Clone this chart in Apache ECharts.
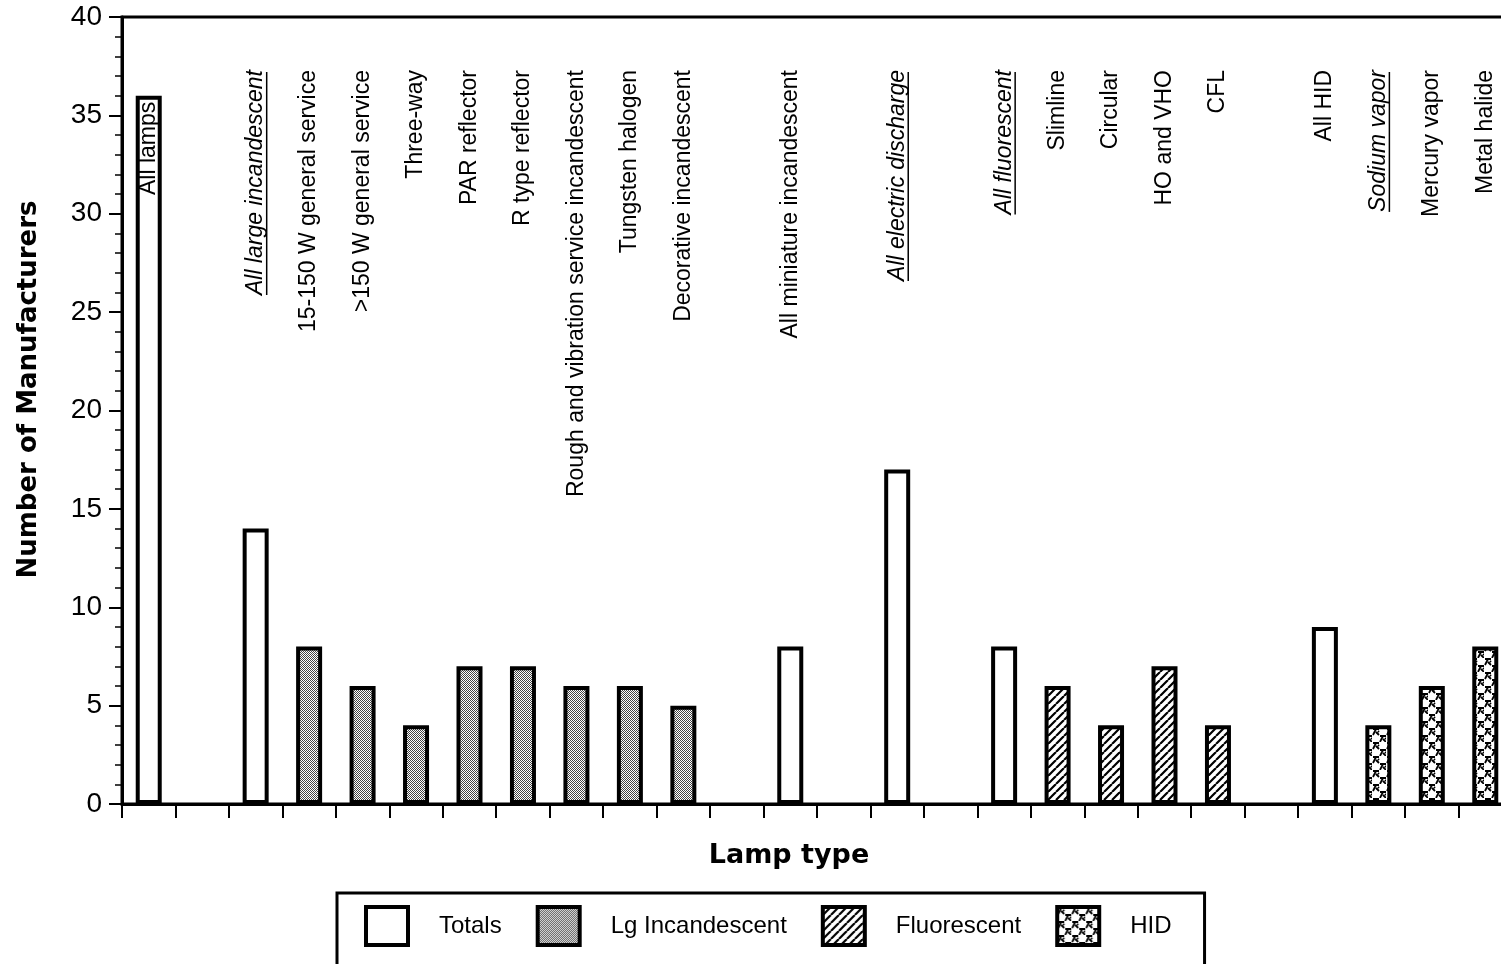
<!DOCTYPE html>
<html>
<head>
<meta charset="utf-8">
<script src="https://cdn.jsdelivr.net/npm/echarts@6/dist/echarts.min.js"></script>
<style>
  html, body { margin: 0; padding: 0; background: #fff; }
  #chart { width: 1501px; height: 964px; }
</style>
</head>
<body>
<div id="chart"></div>
<script>
  const categories = [
    'All lamps', '', 'All large incandescent', '15-150 W general service', '>150 W general service',
    'Three-way', 'PAR reflector', 'R type reflector', 'Rough and vibration service incandescent',
    'Tungsten halogen', 'Decorative incandescent', '', 'All miniature incandescent', '',
    'All electric discharge', '', 'All fluorescent', 'Slimline', 'Circular', 'HO and VHO', 'CFL', '',
    'All HID', 'Sodium vapor', 'Mercury vapor', 'Metal halide'
  ]
  // italic + underlined category labels
  const underlined = ['All large incandescent', 'All electric discharge', 'All fluorescent', 'Sodium vapor']

  const totals = [36, null, 14, null, null, null, null, null, null, null, null, null, 8, null, 17, null, 8, null, null, null, null, null, 9, null, null, null]
  const lgIncandescent = [null, null, null, 8, 6, 4, 7, 7, 6, 6, 5, null, null, null, null, null, null, null, null, null, null, null, null, null, null, null]
  const fluorescent = [null, null, null, null, null, null, null, null, null, null, null, null, null, null, null, null, null, 6, 4, 7, 4, null, null, null, null, null]
  const hid = [null, null, null, null, null, null, null, null, null, null, null, null, null, null, null, null, null, null, null, null, null, null, null, 4, 6, 8]

  const yTicks = [0, 5, 10, 15, 20, 25, 30, 35, 40]

  // fill patterns
  const makePattern = (w, h, draw) => {
    const c = document.createElement('canvas')
    c.width = w
    c.height = h
    const ctx = c.getContext('2d')
    ctx.fillStyle = '#fff'
    ctx.fillRect(0, 0, w, h)
    draw(ctx)
    return { image: c, repeat: 'repeat' }
  }
  const stipple = makePattern(4, 4, (ctx) => {
    ctx.fillStyle = '#444'
    for (let y = 0; y < 4; y++) {
      for (let x = 0; x < 4; x++) {
        if ((x + y) % 2 === 0) ctx.fillRect(x, y, 1, 1)
      }
    }
  })
  const hatch = makePattern(8, 8, (ctx) => {
    ctx.strokeStyle = '#000'
    ctx.lineWidth = 2.2
    ctx.beginPath()
    for (let k = -8; k <= 16; k += 8) {
      ctx.moveTo(k, 8)
      ctx.lineTo(k + 8, 0)
    }
    ctx.stroke()
  })
  const glyphs = makePattern(14, 14, (ctx) => {
    ctx.strokeStyle = '#000'
    ctx.lineWidth = 1.8
    const glyph = (ox, oy) => {
      ctx.beginPath()
      ctx.moveTo(ox, oy); ctx.lineTo(ox + 6, oy)
      ctx.moveTo(ox + 3, oy); ctx.lineTo(ox, oy + 6)
      ctx.moveTo(ox + 3, oy + 3); ctx.lineTo(ox + 6, oy + 6)
      ctx.moveTo(ox + 5, oy + 2); ctx.lineTo(ox + 6, oy + 3)
      ctx.stroke()
    }
    glyph(1, 1)
    glyph(8, 8)
  })

  const labelFont = 23
  const measure = document.createElement('canvas').getContext('2d')
  const textWidth = (text, italic) => {
    measure.font = (italic ? 'italic ' : '') + labelFont + 'px "Liberation Sans"'
    return measure.measureText(text).width
  }

  const barStyle = (fill) => ({ color: fill, borderColor: '#000', borderWidth: 4 })
  const barSeries = (name, data, fill) => ({
    name,
    type: 'bar',
    data,
    barWidth: 26,
    barGap: '-100%',
    itemStyle: barStyle(fill),
    emphasis: { disabled: true },
  })

  const options = {
    animation: false,
    backgroundColor: '#fff',
    textStyle: { fontFamily: '"Liberation Sans", Arial, sans-serif', color: '#000' },
    grid: {
      left: 122,
      top: 17,
      width: 1390,
      bottom: 160,
      outerBoundsMode: 'none',
      show: true,
      borderColor: '#000',
      borderWidth: 3,
      backgroundColor: 'transparent',
    },
    legend: {
      data: [
        { name: 'Totals', icon: 'rect' },
        { name: 'Lg Incandescent', icon: 'rect' },
        { name: 'Fluorescent', icon: 'rect' },
        { name: 'HID', icon: 'rect' },
      ],
      left: 337,
      top: 893,
      orient: 'horizontal',
      itemWidth: 42,
      itemHeight: 38,
      itemGap: 34,
      padding: [12, 33, 40, 27],
      borderColor: '#000',
      borderWidth: 3,
      selectedMode: false,
      itemStyle: { borderColor: '#000', borderWidth: 4 },
      textStyle: {
        fontSize: 24,
        color: '#000',
        fontFamily: '"Liberation Sans", Arial, sans-serif',
        padding: [12, 0, 0, 26],
      },
    },
    xAxis: {
      type: 'category',
      data: categories,
      boundaryGap: true,
      name: 'Lamp type',
      nameLocation: 'middle',
      nameGap: 38,
      nameTextStyle: {
        fontFamily: '"DejaVu Sans", sans-serif',
        fontWeight: 'bold',
        fontSize: 27,
        color: '#000',
        padding: [0, 56, 0, 0],
      },
      axisLine: { lineStyle: { color: '#000', width: 3 } },
      axisTick: { show: true, interval: 0, length: 14, lineStyle: { color: '#000', width: 2 } },
      axisLabel: { show: false, interval: 0 },
      splitLine: { show: false },
    },
    yAxis: {
      type: 'value',
      min: yTicks[0],
      max: yTicks[yTicks.length - 1],
      interval: 5,
      name: 'Number of Manufacturers',
      nameLocation: 'middle',
      nameGap: 80,
      nameTextStyle: {
        fontFamily: '"DejaVu Sans", sans-serif',
        fontWeight: 'bold',
        fontSize: 26,
        color: '#000',
        padding: [0, 0, 0, 42],
      },
      axisLine: { show: true, lineStyle: { color: '#000', width: 3 } },
      axisTick: { show: true, length: 13, lineStyle: { color: '#000', width: 2 } },
      minorTick: { show: true, splitNumber: 5, length: 7, lineStyle: { color: '#000', width: 1.5 } },
      axisLabel: {
        fontSize: 28,
        color: '#000',
        margin: 20,
        fontFamily: '"Liberation Sans", Arial, sans-serif',
      },
      splitLine: { show: false },
    },
    series: [
      barSeries('Totals', totals, '#fff'),
      barSeries('Lg Incandescent', lgIncandescent, stipple),
      barSeries('Fluorescent', fluorescent, hatch),
      barSeries('HID', hid, glyphs),
      {
        // vertical category labels drawn inside the plot
        type: 'custom',
        silent: true,
        z: 10,
        data: categories.map((c, i) => [i, 0]),
        renderItem: (params, api) => {
          const i = api.value(0)
          const name = categories[i]
          if (!name) return null
          const x = api.coord([i, 0])[0]
          const insideBar = i === 0
          const y = insideBar ? api.coord([i, totals[i]])[1] + 6 : api.coord([i, 40])[1] + 53
          const italic = underlined.includes(name)
          const children = [
            {
              type: 'text',
              x: 0,
              y: 0,
              style: {
                text: name,
                align: 'right',
                verticalAlign: 'middle',
                fontSize: labelFont,
                fontStyle: italic ? 'italic' : 'normal',
                fontFamily: '"Liberation Sans", Arial, sans-serif',
                fill: '#000',
              },
            },
          ]
          if (italic) {
            const w = textWidth(name, true)
            children.push({
              type: 'line',
              shape: { x1: -w, y1: labelFont * 0.48, x2: -2, y2: labelFont * 0.48 },
              style: { stroke: '#000', lineWidth: 1.5 },
            })
          }
          return { type: 'group', x, y, rotation: Math.PI / 2, children }
        },
      },
    ],
  }

  const chart = echarts.init(document.getElementById('chart'))
  chart.setOption(options)
  window.addEventListener('resize', function () {
    chart && chart.resize()
  })
</script>
</body>
</html>
